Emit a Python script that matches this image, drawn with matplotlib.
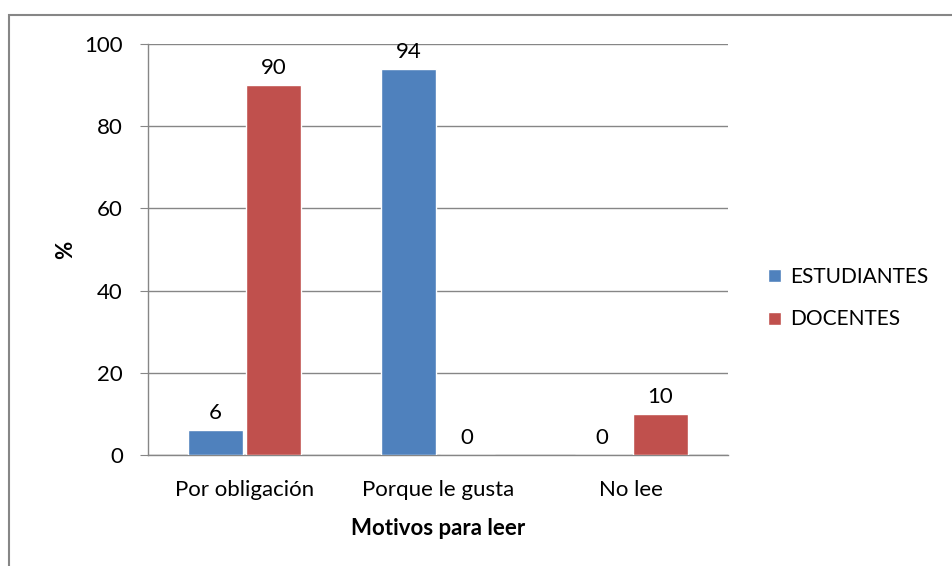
import matplotlib.pyplot as plt
import numpy as np
from matplotlib.patches import Rectangle

plt.rcParams['font.family'] = ['Lato', 'DejaVu Sans']

categorias = ["Por obligación", "Porque le gusta", "No lee"]
estudiantes = [6, 94, 0]
docentes = [90, 0, 10]
series = ["ESTUDIANTES", "DOCENTES"]

AZUL = "#4F81BD"
ROJO = "#C0504D"
GRIS = "#868686"
FS = 16

fig = plt.figure(figsize=(9.52, 5.66), dpi=100)
ax = fig.add_axes([148 / 952, 1 - 455 / 566, 580 / 952, 411 / 566])

x = np.arange(len(categorias))
w = 0.285

b1 = ax.bar(x - w / 2 - 0.008, estudiantes, w, color=AZUL, edgecolor="white", linewidth=1.0,
            label=series[0], zorder=3)
b2 = ax.bar(x + w / 2 + 0.008, docentes, w, color=ROJO, edgecolor="white", linewidth=1.0,
            label=series[1], zorder=3)

# value labels on top of each bar
for bars, vals in ((b1, estudiantes), (b2, docentes)):
    for rect, v in zip(bars, vals):
        ax.annotate(str(v), (rect.get_x() + rect.get_width() / 2, v),
                    xytext=(0, 5), textcoords="offset points",
                    ha="center", va="bottom", fontsize=FS, color="black")

ax.set_xlim(-0.5, len(categorias) - 0.5)
ax.set_ylim(0, 100)
ax.set_yticks(range(0, 101, 20))
ax.set_xticks(x)
ax.set_xticklabels(categorias, fontsize=FS)
ax.tick_params(axis="y", labelsize=FS, length=6, color=GRIS, pad=12)
ax.tick_params(axis="x", length=0, pad=18)
ax.yaxis.grid(True, color=GRIS, linewidth=1.0, zorder=0)
ax.set_axisbelow(True)

for s in ("top", "right"):
    ax.spines[s].set_visible(False)
for s in ("left", "bottom"):
    ax.spines[s].set_color(GRIS)
    ax.spines[s].set_linewidth(1.0)

ax.set_ylabel("%", fontsize=FS, fontweight="bold", labelpad=6)
ax.set_xlabel("Motivos para leer", fontsize=FS, fontweight="bold", labelpad=13)

fig.legend(handles=[b1, b2], labels=series, loc="center left",
           bbox_to_anchor=(760 / 952, 1 - 298 / 566), frameon=False, fontsize=15,
           handlelength=0.6, handleheight=0.6, handletextpad=0.45, labelspacing=1.1,
           borderpad=0.2, borderaxespad=0.2)

# outer chart border
fig.patches.append(Rectangle((9 / 952, -0.1), 1.1, 1 - 15 / 566 + 0.1,
                             transform=fig.transFigure, fill=False,
                             edgecolor=GRIS, linewidth=1.5))

fig.savefig("out.png", dpi=100)
